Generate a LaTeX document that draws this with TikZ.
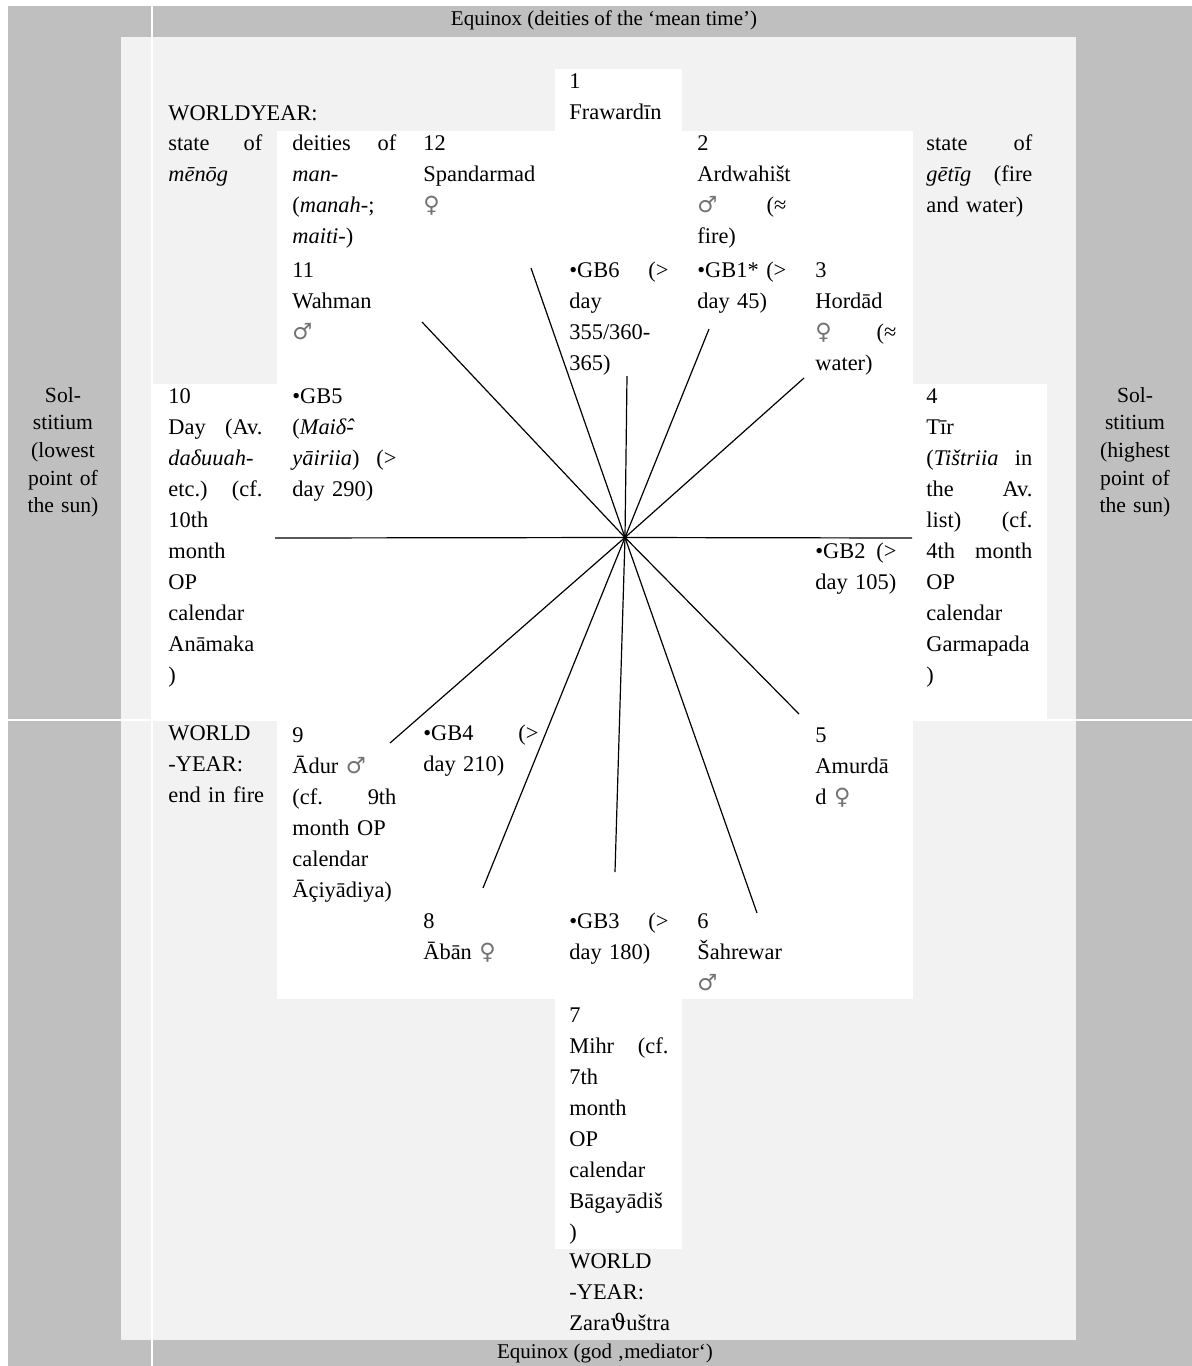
\documentclass[tikz,border=0pt]{standalone}
\usepackage{fontspec}
\setmainfont{Liberation Serif}
\newfontfamily\symfont{DejaVu Sans}
\newfontfamily\grkfont{DejaVu Serif}
\definecolor{darkband}{HTML}{BFBFBF}
\definecolor{lightband}{HTML}{F2F2F2}
\newcommand{\gmale}{{\symfont\color{black!55}♂}}
\newcommand{\gfemale}{{\symfont\color{black!55}♀}}
\newcommand{\cellfont}{\fontsize{11.2}{15.5}\selectfont\hyphenpenalty=10000\relax\exhyphenpenalty=10000\relax}

\begin{document}
\begin{tikzpicture}
    [x=0.5pt, y=-0.5pt,
     cell/.style={anchor=base west, inner sep=0pt, align=left, font=\cellfont},
     col2/.style={cell, text width=47pt},
     col3/.style={cell, text width=52pt},
     col4/.style={cell, text width=57.5pt},
     col5/.style={cell, text width=49.5pt},
     col6/.style={cell, text width=44.5pt},
     col7/.style={cell, text width=40.5pt},
     col8/.style={cell, text width=53pt},
     band/.style={anchor=base, inner sep=0pt, font=\fontsize{10.5}{13}\selectfont},
     sol/.style={anchor=base, inner sep=0pt, align=center, text width=60pt,
       font=\fontsize{10.8}{13.85}\selectfont},
     ray/.style={line width=0.6pt}]
    \useasboundingbox (0,0) rectangle (1192,1366);

    % table background
    \fill[darkband] (8,6) rectangle (1192,1366);
    \fill[lightband] (121,37) rectangle (1076,1340);
    \fill[white] (555,69) rectangle (682,131);
    \fill[white] (277,131) rectangle (913,384);
    \fill[white] (152,384) rectangle (1047,720);
    \fill[white] (277,720) rectangle (913,999);
    \fill[white] (555,999) rectangle (682,1249);
    \draw[white, line width=0.6pt] (152,6) -- (152,1366);
    \draw[white, line width=0.6pt] (8,720) -- (1192,720);

    % twelve rays
    \coordinate (hub) at (625,537.5);
    \coordinate (r1) at (627,376);
    \coordinate (r2) at (709,329);
    \coordinate (r3) at (804,378);
    \coordinate (r4) at (912,538);
    \coordinate (r5) at (799,714);
    \coordinate (r6) at (757,913);
    \coordinate (r7) at (615,872);
    \coordinate (r8) at (483,888);
    \coordinate (r9) at (390,743);
    \coordinate (r10) at (275,538);
    \coordinate (r11) at (422,322);
    \coordinate (r12) at (531,268);
    \foreach \m in {1,...,12}
        \draw[ray] (hub) -- (r\m);

    \node[band] (eqtop) at (604,25) {Equinox (deities of the ‘mean time’)};
    \node[band] (eqbot) at (605,1358) {Equinox (god ‚mediator‘)};
    \node[sol] (sollow) at (63,402) {Sol-\\stitium\\(lowest\\point of\\the sun)};
    \node[sol] (solhigh) at (1135,402) {Sol-\\stitium\\(highest\\point of\\the sun)};

    % upper part
    \node[cell] (wytop) at (168,120) {WORLDYEAR:};
    \node[col2] (menog) at (168,150) {state\hfill of\\\textit{mēnōg}};
    \node[col3] (deities) at (292,150) {deities\hfill of\\\textit{man-}\\(\textit{manah-};\\\textit{maiti-})};
    \node[col3] (m11) at (292,277) {11\\Wahman\\\gmale};
    \node[col4] (m12) at (423,150) {12\\Spandarmad\\\gfemale};
    \node[col5] (m1) at (569,88) {1\\Frawardīn};
    \node[col6] (m2) at (697,150) {2\\Ardwahišt\\\gmale\hfill(≈\\fire)};
    \node[col5] (gb6) at (569,277) {•GB6\hfill(>\\day\\355/360-\\365)};
    \node[col6] (gb1) at (697,277) {•GB1*\hfill(>\\day 45)};
    \node[col7] (m3) at (815,277) {3\\Hordād\\\gfemale\hfill(≈\\water)};
    \node[col8] (getig) at (926,150) {state\hfill of\\\textit{gētīg}\hfill(fire\\and water)};

    % middle part
    \node[col2] (m10) at (168,403) {10\\Day\hfill(Av.\\\textit{daδuuah-}\\etc.)\hfill(cf.\\10th\\month\\OP\\calendar\\Anāmaka\\)};
    \node[col3] (gb5) at (292,403) {•GB5\\(\textit{Maiδ̂-}\\\textit{yāiriia})\hfill(>\\day 290)};
    \node[col7] (gb2) at (815,558) {•GB2\hfill(>\\day 105)};
    \node[col8] (m4) at (926,403) {4\\Tīr\\(\textit{Tištriia}\hfill in\\the\hfill Av.\\list)\hfill(cf.\\4th\hfill month\\OP\\calendar\\Garmapada\\)};

    % lower part
    \node[col2] (wyfire) at (168,740) {WORLD\\-YEAR:\\\mbox{end in fire}};
    \node[col3] (m9) at (292,742) {9\\Ādur \gmale\\(cf.\hfill 9th\\month OP\\calendar\\Āçiyādiya)};
    \node[col4] (gb4) at (423,740) {•GB4\hfill(>\\day 210)};
    \node[col7] (m5) at (815,742) {5\\Amurdā\\d \gfemale};
    \node[col4] (m8) at (423,928) {8\\Ābān \gfemale};
    \node[col5] (gb3) at (569,928) {•GB3\hfill(>\\day 180)};
    \node[col6] (m6) at (697,928) {6\\Šahrewar\\\gmale};
    \node[col5] (m7) at (569,1022) {7\\Mihr\hfill(cf.\\7th\\month\\OP\\calendar\\Bāgayādiš\\)};
    \node[col5] (wyzara) at (569,1268) {WORLD\\-YEAR:\\Zara{\grkfont ϑ}uštra};

\end{tikzpicture}
\end{document}
